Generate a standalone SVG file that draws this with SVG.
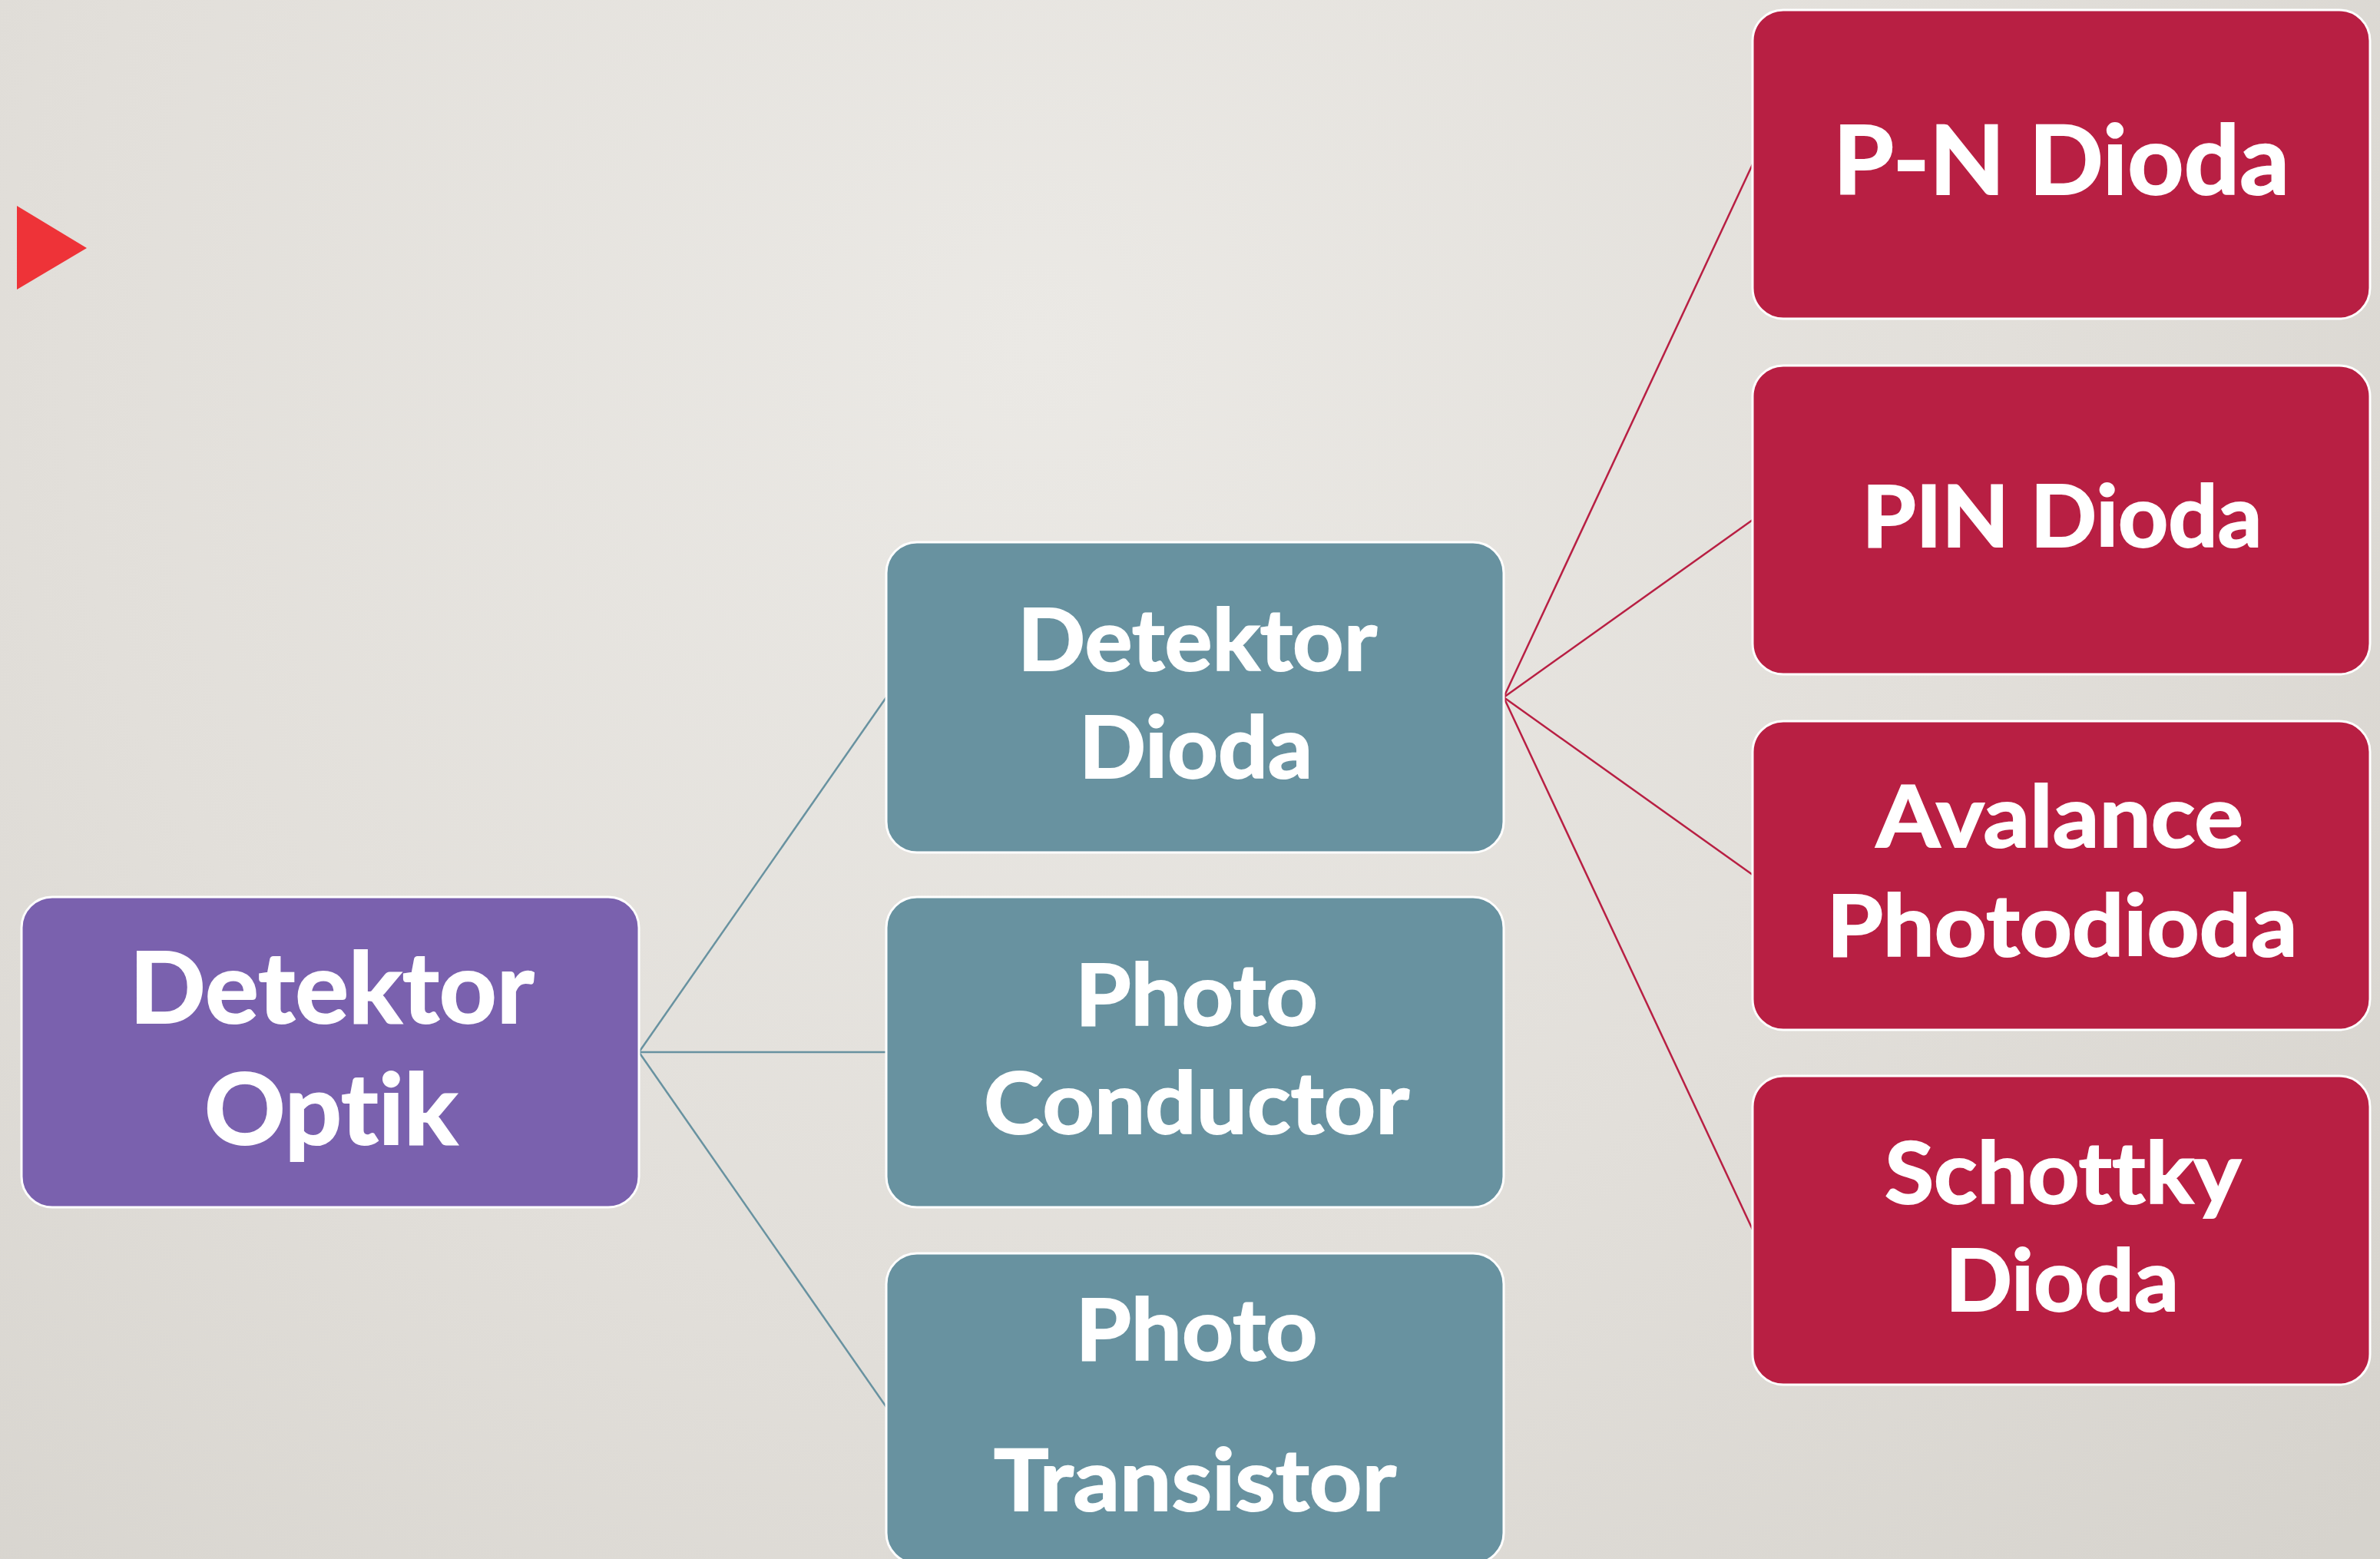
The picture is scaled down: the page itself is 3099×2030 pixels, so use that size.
<svg xmlns="http://www.w3.org/2000/svg" width="3099" height="2030" viewBox="0 0 3099 2030">
  <defs>
    <radialGradient id="bg" cx="1350" cy="450" r="2300" gradientUnits="userSpaceOnUse">
      <stop offset="0" stop-color="#ebe9e5"/>
      <stop offset="0.55" stop-color="#e2dfda"/>
      <stop offset="1" stop-color="#d6d3cd"/>
    </radialGradient>
    <style>
      .box { stroke: #ffffff; stroke-width: 3; }
      .root { fill: #7a61ae; }
      .mid { fill: #6892a0; }
      .leaf { fill: #b81f43; }
      .lbl { font-family: Lato, "Open Sans", "Liberation Sans", sans-serif; font-weight: 700; fill: #ffffff; stroke: #ffffff; stroke-width: 2; text-anchor: middle; font-variant-ligatures: none; font-feature-settings: "liga" 0, "clig" 0; }
      .s111 { font-size: 111px; }
      .s125 { font-size: 125px; }
      .s128 { font-size: 128px; }
      .link-mid { stroke: #6892a0; stroke-width: 2.5; fill: none; }
      .link-leaf { stroke: #b81f43; stroke-width: 2.5; fill: none; }
    </style>
  </defs>

  <!-- backdrop -->
  <rect x="0" y="0" width="3099" height="2030" fill="url(#bg)"/>
  <polygon points="22,268 22,377 113,323" fill="#ee3338"/>

  <!-- connectors -->
  <g id="connectors">
    <line class="link-mid" x1="832" y1="1370" x2="1154" y2="908"/>
    <line class="link-mid" x1="832" y1="1370" x2="1154" y2="1370"/>
    <line class="link-mid" x1="832" y1="1370" x2="1154" y2="1832"/>
    <line class="link-leaf" x1="1958" y1="908" x2="2282" y2="214"/>
    <line class="link-leaf" x1="1958" y1="908" x2="2282" y2="677"/>
    <line class="link-leaf" x1="1958" y1="908" x2="2282" y2="1139"/>
    <line class="link-leaf" x1="1958" y1="908" x2="2282" y2="1601"/>
  </g>

  <!-- root -->
  <g id="detektor-optik">
    <rect class="box root" x="28" y="1168" width="804" height="404" rx="40" ry="40"/>
    <text class="lbl s128" x="432" y="1332" textLength="527" lengthAdjust="spacingAndGlyphs">Detektor</text>
    <text class="lbl s128" x="431" y="1490" textLength="330" lengthAdjust="spacingAndGlyphs">Optik</text>
  </g>

  <!-- middle column -->
  <g id="detektor-dioda">
    <rect class="box mid" x="1154" y="706" width="804" height="404" rx="40" ry="40"/>
    <text class="lbl s111" x="1559" y="873" textLength="468" lengthAdjust="spacingAndGlyphs">Detektor</text>
    <text class="lbl s111" x="1557" y="1013" textLength="304" lengthAdjust="spacingAndGlyphs">Dioda</text>
  </g>
  <g id="photo-conductor">
    <rect class="box mid" x="1154" y="1168" width="804" height="404" rx="40" ry="40"/>
    <text class="lbl s111" x="1558" y="1335" textLength="316" lengthAdjust="spacingAndGlyphs">Photo</text>
    <text class="lbl s111" x="1558" y="1476" textLength="554" lengthAdjust="spacingAndGlyphs">Conductor</text>
  </g>
  <g id="photo-transistor">
    <rect class="box mid" x="1154" y="1632" width="804" height="404" rx="40" ry="40"/>
    <text class="lbl s111" x="1558" y="1771" textLength="315" lengthAdjust="spacingAndGlyphs">Photo</text>
    <text class="lbl s111" x="1556" y="1967" textLength="524" lengthAdjust="spacingAndGlyphs">Transistor</text>
  </g>

  <!-- right column -->
  <g id="pn-dioda">
    <rect class="box leaf" x="2282" y="13" width="804" height="402" rx="40" ry="40"/>
    <text class="lbl s125" x="2684" y="253" textLength="594" lengthAdjust="spacingAndGlyphs">P-N Dioda</text>
  </g>
  <g id="pin-dioda">
    <rect class="box leaf" x="2282" y="476" width="804" height="402" rx="40" ry="40"/>
    <text class="lbl s111" x="2685" y="712" textLength="521" lengthAdjust="spacingAndGlyphs">PIN Dioda</text>
  </g>
  <g id="avalance-photodioda">
    <rect class="box leaf" x="2282" y="939" width="804" height="402" rx="40" ry="40"/>
    <text class="lbl s111" x="2682" y="1103" textLength="478" lengthAdjust="spacingAndGlyphs">Avalance</text>
    <text class="lbl s111" x="2685" y="1245" textLength="613" lengthAdjust="spacingAndGlyphs">Photodioda</text>
  </g>
  <g id="schottky-dioda">
    <rect class="box leaf" x="2282" y="1401" width="804" height="402" rx="40" ry="40"/>
    <text class="lbl s111" x="2686" y="1567" textLength="464" lengthAdjust="spacingAndGlyphs">Schottky</text>
    <text class="lbl s111" x="2685" y="1707" textLength="304" lengthAdjust="spacingAndGlyphs">Dioda</text>
  </g>
</svg>
